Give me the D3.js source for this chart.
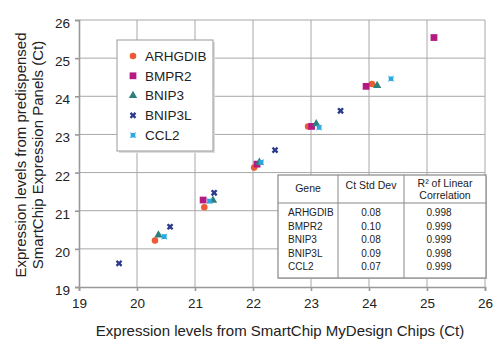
<!DOCTYPE html>
<html>
<head>
<meta charset="utf-8">
<script src="https://cdn.jsdelivr.net/npm/d3@7"></script>
<style>
  body { margin: 0; background: #fff; }
  svg { font-family: "Liberation Sans", Arial, sans-serif; display: block; }
</style>
</head>
<body>
<svg id="chart"></svg>
<script>
const genes = ["ARHGDIB", "BMPR2", "BNIP3", "BNIP3L", "CCL2"];
const colors = ["#ec5b35", "#b51a84", "#2b8079", "#2c3a8c", "#29a9df"];

// x = MyDesign Chips Ct, y = predispensed panels Ct
const arhgdibX = [20.31, 21.16, 22.02, 22.95, 24.05];
const arhgdibY = [20.22, 21.09, 22.13, 23.21, 24.32];
const bmpr2X = [21.14, 22.07, 23.01, 23.95, 25.12];
const bmpr2Y = [21.28, 22.22, 23.21, 24.26, 25.54];
const bnip3X = [20.37, 21.31, 22.11, 23.09, 24.14];
const bnip3Y = [20.36, 21.27, 22.27, 23.28, 24.28];
const bnip3lX = [19.69, 20.57, 21.33, 22.38, 23.51];
const bnip3lY = [19.62, 20.58, 21.47, 22.59, 23.62];
const ccl2X = [20.47, 21.25, 22.14, 23.14, 24.38];
const ccl2Y = [20.32, 21.25, 22.27, 23.18, 24.46];

const xTicks = [19, 20, 21, 22, 23, 24, 25, 26];
const yTicks = [19, 20, 21, 22, 23, 24, 25, 26];

const tableHead = ["Gene", "Ct Std Dev", "R² of Linear", "Correlation"];
const ctStdDev = ["0.08", "0.10", "0.08", "0.09", "0.07"];
const r2 = ["0.998", "0.999", "0.999", "0.998", "0.999"];

const W = 500, H = 346;
const margin = { top: 20, right: 15, bottom: 59, left: 79 };
const width = W - margin.left - margin.right;
const height = H - margin.top - margin.bottom;

const seriesX = [arhgdibX, bmpr2X, bnip3X, bnip3lX, ccl2X];
const seriesY = [arhgdibY, bmpr2Y, bnip3Y, bnip3lY, ccl2Y];
const data = genes.map((g, i) => ({
  gene: g, color: colors[i],
  points: seriesX[i].map((x, j) => ({ x: x, y: seriesY[i][j] }))
}));

// notched square, like the spreadsheet "star" marker
const symbolStar = {
  draw(ctx, size) {
    const s = Math.sqrt(size) / 2, n = s * 0.45;
    ctx.moveTo(-s, -s); ctx.lineTo(-n, -s + n * 0.6); ctx.lineTo(n, -s + n * 0.6);
    ctx.lineTo(s, -s); ctx.lineTo(s - n * 0.6, -n); ctx.lineTo(s - n * 0.6, n);
    ctx.lineTo(s, s); ctx.lineTo(n, s - n * 0.6); ctx.lineTo(-n, s - n * 0.6);
    ctx.lineTo(-s, s); ctx.lineTo(-s + n * 0.6, n); ctx.lineTo(-s + n * 0.6, -n);
    ctx.closePath();
  }
};

const symbols = [
  d3.symbol().type(d3.symbolCircle).size(34),
  d3.symbol().type(d3.symbolSquare).size(46),
  d3.symbol().type(d3.symbolTriangle).size(30),
  d3.symbol().type(d3.symbolCross).size(28),
  d3.symbol().type(symbolStar).size(40)
];
const rotations = [0, 0, 0, 45, 0];

const svg = d3.select("#chart").attr("width", W).attr("height", H);
const g = svg.append("g").attr("transform", `translate(${margin.left},${margin.top})`);

const x = d3.scaleLinear().domain([19, 26]).range([0, width]);
const y = d3.scaleLinear().domain([19, 26]).range([height, 0]);

// grid
g.append("g").selectAll("line").data(xTicks.slice(1)).join("line")
  .attr("x1", d => x(d)).attr("x2", d => x(d)).attr("y1", 0).attr("y2", height)
  .attr("stroke", "#a8a8a8").attr("stroke-width", 1);
g.append("g").selectAll("line").data(yTicks.slice(1)).join("line")
  .attr("x1", 0).attr("x2", width).attr("y1", d => y(d)).attr("y2", d => y(d))
  .attr("stroke", "#a8a8a8").attr("stroke-width", 1);

// axes
const fmt = d3.format("d");
const xAxis = g.append("g").attr("transform", `translate(0,${height})`)
  .call(d3.axisBottom(x).tickValues(xTicks).tickFormat(fmt).tickSize(4).tickPadding(7));
const yAxis = g.append("g")
  .call(d3.axisLeft(y).tickValues(yTicks).tickFormat(fmt).tickSize(4).tickPadding(5));
[xAxis, yAxis].forEach(a => {
  a.select(".domain").attr("stroke", "#999").attr("stroke-width", 1.6);
  a.selectAll(".tick line").attr("stroke", "#999").attr("stroke-width", 1.6);
  a.selectAll("text").attr("font-size", 13.5).attr("fill", "#222")
    .attr("font-family", "Liberation Sans, Arial, sans-serif");
});
yAxis.selectAll(".tick text").attr("dy", "0.55em");

// points
data.forEach((s, i) => {
  g.append("g").selectAll("path").data(s.points).join("path")
    .attr("d", symbols[i])
    .attr("transform", d => `translate(${x(d.x)},${y(d.y)}) rotate(${rotations[i]})`)
    .attr("fill", s.color);
});

// legend
const lg = svg.append("g").attr("transform", "translate(117,40)");
lg.append("rect").attr("x", 2).attr("y", 2).attr("width", 96).attr("height", 111).attr("fill", "#ddd");
lg.append("rect").attr("width", 96).attr("height", 111).attr("fill", "#fff").attr("stroke", "#999");
data.forEach((s, i) => {
  const row = lg.append("g").attr("transform", `translate(16,${16 + i * 19.8})`);
  row.append("path").attr("d", symbols[i]).attr("transform", `rotate(${rotations[i]})`).attr("fill", s.color);
  row.append("text").attr("x", 12).attr("dy", "0.36em").attr("font-size", 13.5).attr("fill", "#222").text(s.gene);
});

// table
const tb = svg.append("g").attr("transform", "translate(278,175)");
const colX = [0, 60, 126, 208];
const tH = 103;
tb.append("rect").attr("x", 1).attr("y", 1).attr("width", colX[3]).attr("height", tH).attr("fill", "#ccc");
tb.append("rect").attr("width", colX[3]).attr("height", tH).attr("fill", "#fff").attr("stroke", "#888").attr("stroke-width", 1.2);
tb.append("line").attr("x1", 0).attr("x2", colX[3]).attr("y1", 28).attr("y2", 28).attr("stroke", "#888");
[colX[1], colX[2]].forEach(cx => tb.append("line").attr("x1", cx).attr("x2", cx).attr("y1", 0).attr("y2", tH).attr("stroke", "#888"));
const hd = tb.append("g").attr("font-size", 10.5).attr("fill", "#222").attr("text-anchor", "middle");
hd.append("text").attr("x", 30).attr("y", 17).text(tableHead[0]);
hd.append("text").attr("x", 93).attr("y", 14).text(tableHead[1]);
hd.append("text").attr("x", 167).attr("y", 12).text(tableHead[2]);
hd.append("text").attr("x", 167).attr("y", 24).text(tableHead[3]);
genes.forEach((gn, i) => {
  const ry = 41 + i * 13.6;
  tb.append("text").attr("x", 10).attr("y", ry).attr("font-size", 10).attr("fill", "#222").text(gn);
  tb.append("text").attr("x", 93).attr("y", ry).attr("font-size", 10).attr("fill", "#222").attr("text-anchor", "middle").text(ctStdDev[i]);
  tb.append("text").attr("x", 161).attr("y", ry).attr("font-size", 10).attr("fill", "#222").attr("text-anchor", "middle").text(r2[i]);
});

// axis titles
svg.append("text").attr("x", 280).attr("y", 336).attr("text-anchor", "middle")
  .attr("font-size", 15).attr("fill", "#222").text("Expression levels from SmartChip MyDesign Chips (Ct)");
const yt = svg.append("text").attr("transform", "translate(26,155) rotate(-90)")
  .attr("text-anchor", "middle").attr("font-size", 15).attr("fill", "#222");
yt.append("tspan").attr("x", 0).attr("y", 0).text("Expression levels from predispensed");
yt.append("tspan").attr("x", 0).attr("y", 17).text("SmartChip Expression Panels (Ct)");
</script>
</body>
</html>
